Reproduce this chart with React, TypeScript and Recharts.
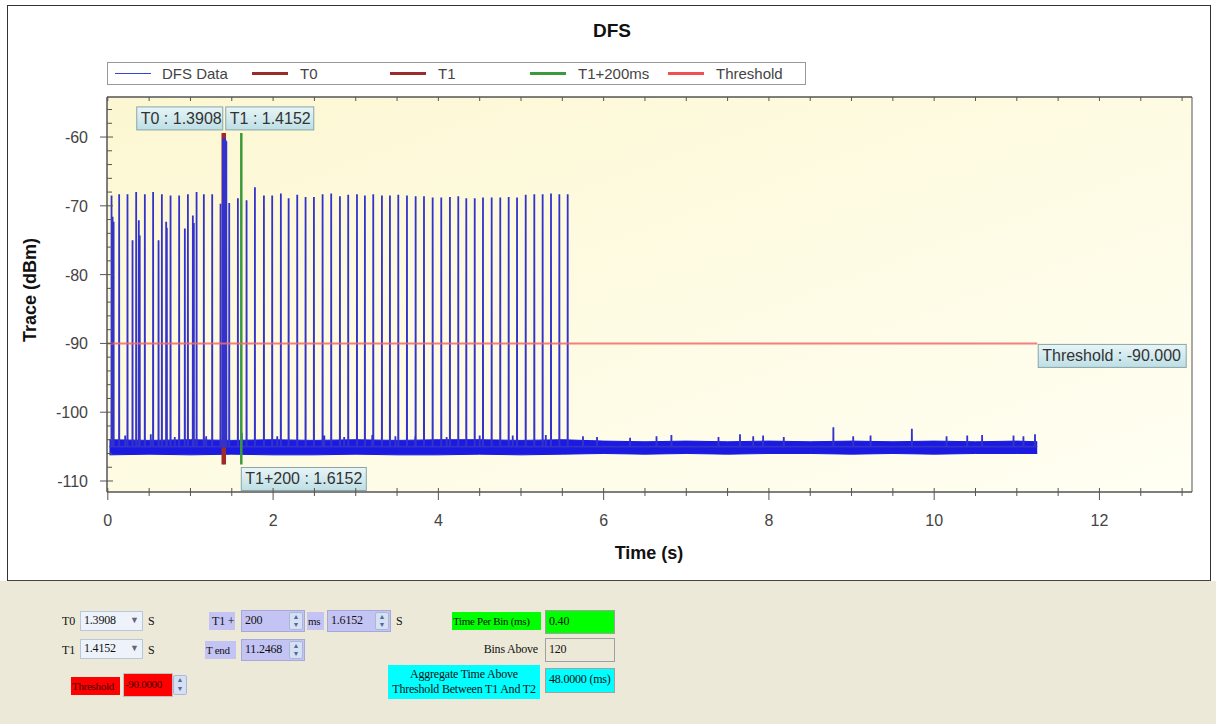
import React from "react";
import { Area, CartesianGrid, ComposedChart, Line, ReferenceArea, Scatter, XAxis, YAxis } from "recharts";

// pulse positions (s) and peak levels (dBm)
const pulseTimes = [
  0.045, 0.058, 0.07, 0.137, 0.238, 0.299, 0.343, 0.375, 0.386, 0.448, 0.548, 0.614, 0.654, 0.706, 0.714,
  0.759, 0.863, 0.932, 0.969, 1.029, 1.041, 1.074, 1.162, 1.263, 1.364, 1.392, 1.399, 1.406, 1.413, 1.42,
  1.427, 1.434, 1.469, 1.574, 1.679, 1.78, 1.889, 1.989, 2.094, 2.188, 2.292, 2.393, 2.494, 2.599, 2.703,
  2.809, 2.909, 3.015, 3.111, 3.212, 3.317, 3.414, 3.515, 3.62, 3.725, 3.826, 3.931, 4.035, 4.14, 4.241,
  4.338, 4.44, 4.54, 4.645, 4.749, 4.851, 4.952, 5.057, 5.161, 5.262, 5.363, 5.464, 5.565,
];
const pulsePeaks = [
  -68.5, -71.6, -72.3, -68.3, -68.3, -75.0, -68.0, -72.1, -74.3, -68.3, -68.0, -75.0, -68.3, -72.3, -73.2,
  -68.5, -68.5, -73.3, -68.3, -71.4, -72.5, -68.0, -68.3, -68.3, -69.7, -60.4, -60.2, -60.1, -60.2, -60.3,
  -60.5, -60.6, -69.6, -68.9, -69.2, -67.3, -68.5, -68.5, -68.2, -68.9, -68.4, -68.7, -68.7, -68.3, -68.2,
  -68.6, -68.4, -68.3, -68.5, -68.3, -68.5, -68.5, -68.4, -68.5, -68.6, -68.6, -68.8, -68.8, -68.7, -68.6,
  -68.9, -68.9, -68.8, -68.8, -68.8, -68.7, -68.8, -68.4, -68.3, -68.3, -68.2, -68.3, -68.3,
];

// small spikes sticking out of the noise floor
const spikeTimes = [
  0.21, 0.52, 0.81, 1.19, 1.62, 2.05, 2.62, 2.86, 3.2, 3.48, 3.72, 4.1, 4.5, 4.9, 5.3, 5.75, 5.92, 6.32,
  6.64, 6.82, 7.39, 7.65, 7.81, 7.93, 8.18, 8.78, 9.02, 9.23, 9.73, 10.15, 10.4, 10.58, 10.96, 11.08, 11.22,
];
const spikeValues = [
  -103.4, -103.2, -103.6, -103.5, -103.0, -103.5, -103.4, -103.6, -103.3, -103.5, -103.5, -103.6, -103.4,
  -103.4, -103.3, -103.5, -103.6, -103.7, -103.5, -103.3, -103.6, -103.2, -103.5, -103.4, -103.6, -102.2,
  -103.5, -103.4, -102.4, -103.5, -103.4, -103.3, -103.4, -103.5, -103.2,
];

// noise floor envelope
const bandTimes = [0.02, 0.5, 1, 1.5, 2, 2.5, 3, 3.5, 4, 4.5, 5, 5.5, 6, 6.5, 7, 7.5, 8, 8.5, 9, 9.5, 10, 10.5, 11, 11.2468];
const bandLow = [
  -106.2, -106.1, -106.2, -106.1, -106.2, -106.2, -106.1, -106.2, -106.2, -106.1, -106.2, -106.1, -106.0,
  -106.1, -106.0, -106.1, -106.0, -106.0, -106.1, -106.0, -106.1, -106.0, -106.0, -106.0,
];
const bandHigh = [
  -104.0, -104.1, -104.0, -104.1, -104.0, -104.1, -104.0, -104.1, -104.0, -104.0, -104.1, -104.0, -104.2,
  -104.3, -104.2, -104.3, -104.2, -104.3, -104.2, -104.3, -104.2, -104.3, -104.2, -104.3,
];

const floorLevel = -105;
const traceStart = 0.02;
const T0 = 1.3908;
const T1 = 1.4152;
const T1_200 = 1.6152;
const T_END = 11.2468;
const THRESHOLD = -90;
const markerLow = -107.6;
const markerHigh = -59.4;

const xTicks = [0, 0.5, 1, 1.5, 2, 2.5, 3, 3.5, 4, 4.5, 5, 5.5, 6, 6.5, 7, 7.5, 8, 8.5, 9, 9.5, 10, 10.5, 11, 11.5, 12, 12.5, 13];
const yTicks = [-110, -108, -106, -104, -102, -100, -98, -96, -94, -92, -90, -88, -86, -84, -82, -80, -78, -76, -74, -72, -70, -68, -66, -64, -62, -60, -58, -56];
const xDomain = [-0.01, 13.12];
const yDomain = [-111.6, -54.18];

const legendNames = ["DFS Data", "T0", "T1", "T1+200ms", "Threshold"];
const legendColors = ["#3344dd", "#9e2b2b", "#9e2b2b", "#3c9a3c", "#f05050"];

const events = [
  ...pulseTimes.map((t, i) => ({ t, v: pulsePeaks[i] })),
  ...spikeTimes.map((t, i) => ({ t, v: spikeValues[i] })),
].sort((a, b) => a.t - b.t);

const dfsData: { t: number; v: number }[] = [{ t: traceStart, v: floorLevel }];
events.forEach((e) => {
  dfsData.push({ t: e.t - 0.0015, v: floorLevel }, { t: e.t, v: e.v }, { t: e.t + 0.0015, v: floorLevel });
});
dfsData.push({ t: T_END, v: floorLevel });

const bandData = bandTimes.map((t, i) => ({ t, band: [bandLow[i], bandHigh[i]] }));
const t0Data = [{ t: T0, v: markerLow }, { t: T0, v: markerHigh }];
const t1Data = [{ t: T1, v: markerLow }, { t: T1, v: markerHigh }];
const t200Data = [{ t: T1_200, v: markerLow }, { t: T1_200, v: markerHigh }];
const thresholdData = [{ t: 0, v: THRESHOLD }, { t: T_END, v: THRESHOLD }];
const tagData = [
  { t: T0, v: markerHigh, id: "t0", text: `T0 : ${T0.toFixed(4)}` },
  { t: T1, v: markerHigh, id: "t1", text: `T1 : ${T1.toFixed(4)}` },
  { t: T1_200, v: markerLow, id: "t200", text: `T1+200 : ${T1_200.toFixed(4)}` },
  { t: T_END, v: THRESHOLD, id: "thr", text: `Threshold : ${THRESHOLD.toFixed(3)}` },
];

const tickFont = "'Liberation Sans', Arial, sans-serif";
const axisColor = "#555";

function BottomTick(props: any) {
  const { x, y, payload } = props;
  const major = payload.value % 2 === 0;
  return (
    <g>
      <line x1={x} x2={x} y1={y - 4} y2={y + (major ? 8 : 4)} stroke={axisColor} />
      {major ? (
        <text x={x} y={y + 34} textAnchor="middle" fontSize={16} fontFamily={tickFont} fill="#444">
          {payload.value}
        </text>
      ) : null}
    </g>
  );
}

function TopTick(props: any) {
  const { x, y } = props;
  return <line x1={x} x2={x} y1={y} y2={y + 4} stroke={axisColor} />;
}

function LeftTick(props: any) {
  const { x, y, payload } = props;
  const major = payload.value % 10 === 0;
  return (
    <g>
      <line x1={x - (major ? 7 : 0)} x2={x + (major ? 6 : 5)} y1={y} y2={y} stroke={axisColor} />
      {major ? (
        <text x={x - 19} y={y + 6} textAnchor="end" fontSize={16} fontFamily={tickFont} fill="#444">
          {payload.value}
        </text>
      ) : null}
    </g>
  );
}

function RightTick(props: any) {
  const { x, y } = props;
  return <line x1={x - 5} x2={x} y1={y} y2={y} stroke={axisColor} />;
}

const tagWidths: Record<string, number> = { t0: 86, t1: 88, t200: 125, thr: 148 };

function MarkerTag(props: any) {
  const { cx, cy, payload } = props;
  if (cx == null || cy == null) return null;
  const w = tagWidths[payload.id];
  const h = 23;
  let bx = cx + 1;
  let by = cy - 3 - h;
  if (payload.id === "t0") bx = cx - w;
  if (payload.id === "t200") {
    bx = cx;
    by = cy + 3;
  }
  if (payload.id === "thr") by = cy + 1;
  return (
    <g>
      <rect x={bx} y={by} width={w} height={h} fill="url(#tagBg)" stroke="#8aa4a8" />
      <text x={bx + 4} y={by + 17} fontSize={16} fontFamily={tickFont} fill="#333">
        {payload.text}
      </text>
    </g>
  );
}

const panelFont = "'Liberation Serif', 'Times New Roman', serif";

function Txt({ x, y, children, right }: any) {
  return (
    <div
      style={{
        position: "absolute",
        left: right ? undefined : x,
        right: right ? 1216 - x : undefined,
        top: y,
        fontFamily: panelFont,
        fontSize: 12,
        letterSpacing: -0.2,
        color: "#111",
        whiteSpace: "nowrap",
      }}
    >
      {children}
    </div>
  );
}

function Field({ x, y, w, h, bg, border, children, center, color, small }: any) {
  return (
    <div
      style={{
        position: "absolute",
        left: x,
        top: y,
        width: w,
        height: h,
        boxSizing: "border-box",
        background: bg,
        border: border ? `1px solid ${border}` : "none",
        fontFamily: panelFont,
        fontSize: small ? 11 : 12,
        letterSpacing: small ? -0.3 : -0.2,
        color: color || "#111",
        lineHeight: center ? "15px" : `${border ? h - 4 : h}px`,
        paddingLeft: center ? 0 : small ? 1 : 3,
        textAlign: center ? "center" : "left",
        display: center ? "flex" : "block",
        flexDirection: "column",
        justifyContent: "center",
        whiteSpace: "nowrap",
        overflow: "hidden",
      }}
    >
      {children}
    </div>
  );
}

function Spin({ x, y, h }: any) {
  return (
    <div
      style={{
        position: "absolute",
        left: x,
        top: y + 2,
        width: 14,
        height: h - 4,
        boxSizing: "border-box",
        background: "#d7e0f2",
        border: "1px solid #a8b8d8",
        borderRadius: 2,
        fontSize: 7,
        lineHeight: `${(h - 6) / 2}px`,
        color: "#4a6aa0",
        textAlign: "center",
      }}
    >
      ▲<br />▼
    </div>
  );
}

function Combo({ x, y, value }: any) {
  return (
    <>
      <Field x={x} y={y} w={63} h={20} bg="#eef3fb" border="#b8c8dc">
        {value}
      </Field>
      <div style={{ position: "absolute", left: x + 50, top: y + 4, fontSize: 9, color: "#667" }}>▼</div>
    </>
  );
}

function ControlPanel() {
  const lav = "#c4c4f4";
  return (
    <div style={{ position: "absolute", left: 0, top: 581, width: 1216, height: 143, background: "#ece9d8" }}>
      <div style={{ position: "absolute", left: 0, top: -581, width: 1216, height: 724 }}>
        <Txt x={62} y={614}>T0</Txt>
        <Combo x={80} y={611} value={T0.toFixed(4)} />
        <Txt x={148} y={614}>S</Txt>
        <Txt x={62} y={643}>T1</Txt>
        <Combo x={80} y={639} value={T1.toFixed(4)} />
        <Txt x={148} y={643}>S</Txt>

        <Field x={71} y={677} w={49} h={18} bg="#ff0000" color="#400" small>
          Threshold
        </Field>
        <Field x={123} y={673} w={50} h={24} bg="#ff0000" border="#c0c0c0" color="#400" small>
          {THRESHOLD.toFixed(4)}
        </Field>
        <Spin x={173} y={673} h={24} />

        <Field x={209} y={612} w={26} h={18} bg={lav}>
          T1 +
        </Field>
        <Field x={241} y={610} w={64} h={22} bg={lav} border="#a8a8d8">
          200
        </Field>
        <Spin x={289} y={610} h={22} />
        <Field x={307} y={612} w={17} h={18} bg={lav} small>
          ms
        </Field>
        <Field x={327} y={610} w={64} h={22} bg={lav} border="#a8a8d8">
          {T1_200.toFixed(4)}
        </Field>
        <Spin x={375} y={610} h={22} />
        <Txt x={396} y={614}>S</Txt>

        <Field x={205} y={641} w={31} h={18} bg={lav} small>
          T end
        </Field>
        <Field x={241} y={639} w={64} h={22} bg={lav} border="#a8a8d8">
          {T_END.toFixed(4)}
        </Field>
        <Spin x={289} y={639} h={22} />

        <Field x={452} y={612} w={89} h={18} bg="#00ff00" small>
          Time Per Bin (ms)
        </Field>
        <Field x={545} y={610} w={70} h={24} bg="#00ff00" border="#a0a0a0">
          0.40
        </Field>
        <Txt x={538} y={642} right>
          Bins Above
        </Txt>
        <Field x={545} y={638} w={70} h={24} bg="#ece9d8" border="#a0a0a0">
          120
        </Field>
        <Field x={388} y={665} w={152} h={34} bg="#00ffff" center>
          <div>Aggregate Time Above</div>
          <div>Threshold Between T1 And T2</div>
        </Field>
        <Field x={545} y={668} w={70} h={25} bg="#00ffff" border="#a0a0a0">
          48.0000 (ms)
        </Field>
      </div>
    </div>
  );
}

function ChartLegend() {
  const starts = [115, 252, 390, 530, 668];
  return (
    <div
      style={{
        position: "absolute",
        left: 107,
        top: 62,
        width: 699,
        height: 23,
        boxSizing: "border-box",
        border: "1px solid #999",
        background: "#fff",
      }}
    >
      {legendNames.map((name, i) => (
        <div key={name} style={{ position: "absolute", left: starts[i] - 108, top: 0, height: 21, display: "flex", alignItems: "center" }}>
          <div style={{ width: 36, height: i === 0 ? 1.5 : 3, background: legendColors[i] }} />
          <span style={{ marginLeft: i === 0 ? 11 : 12, fontFamily: tickFont, fontSize: 15, color: "#444" }}>{name}</span>
        </div>
      ))}
    </div>
  );
}

export default function App() {
  return (
    <div style={{ position: "absolute", left: 0, top: 0, width: 1216, height: 724, background: "#fff", overflow: "hidden" }}>
      <div
        style={{
          position: "absolute",
          left: 7,
          top: 5,
          width: 1204,
          height: 577,
          boxSizing: "border-box",
          border: "1px solid #333",
          borderBottom: "2px solid #444",
          background: "#fff",
        }}
      />
      <div style={{ position: "absolute", left: 0, top: 20, width: 1216, textAlign: "center", paddingLeft: 8, boxSizing: "border-box", fontFamily: tickFont, fontWeight: "bold", fontSize: 19, color: "#111" }}>
        DFS
      </div>
      <ChartLegend />
      <div style={{ position: "absolute", left: 0, top: 0 }}>
        <ComposedChart width={1216} height={580} margin={{ top: 96, right: 24, bottom: 48, left: 67 }}>
          <defs>
            <linearGradient id="plotBg" x1="0" y1="0" x2="1" y2="1">
              <stop offset="0%" stopColor="#fcf7d2" />
              <stop offset="100%" stopColor="#fffff3" />
            </linearGradient>
            <linearGradient id="tagBg" x1="0" y1="0" x2="0" y2="1">
              <stop offset="0%" stopColor="#e8f5f7" />
              <stop offset="100%" stopColor="#bcdfe5" />
            </linearGradient>
          </defs>
          <CartesianGrid horizontal={false} vertical={false} fill="url(#plotBg)" />
          <XAxis
            dataKey="t"
            type="number"
            domain={xDomain}
            allowDataOverflow
            ticks={xTicks}
            interval={0}
            height={40}
            tickSize={0}
            tickMargin={0}
            tickLine={false}
            tick={BottomTick}
            stroke={axisColor}
          />
          <XAxis
            xAxisId="top"
            orientation="top"
            dataKey="t"
            type="number"
            domain={xDomain}
            allowDataOverflow
            ticks={xTicks}
            interval={0}
            height={1}
            tickSize={0}
            tickMargin={0}
            tickLine={false}
            tick={TopTick}
            stroke={axisColor}
          />
          <YAxis
            type="number"
            domain={yDomain}
            allowDataOverflow
            ticks={yTicks}
            interval={0}
            width={40}
            tickSize={0}
            tickMargin={0}
            tickLine={false}
            tick={LeftTick}
            stroke={axisColor}
          />
          <YAxis
            yAxisId="r"
            orientation="right"
            type="number"
            domain={yDomain}
            allowDataOverflow
            ticks={yTicks}
            interval={0}
            width={0}
            tickSize={0}
            tickMargin={0}
            tickLine={false}
            tick={RightTick}
            stroke={axisColor}
          />
          <Line data={t0Data} dataKey="v" stroke="#9e2b2b" strokeWidth={2.5} dot={false} isAnimationActive={false} />
          <Line data={t1Data} dataKey="v" stroke="#9e2b2b" strokeWidth={2.5} dot={false} isAnimationActive={false} />
          <Area
            data={bandData}
            dataKey="band"
            type="linear"
            stroke="#1a1ae0"
            strokeWidth={1}
            fill="#1a1ae0"
            fillOpacity={1}
            isAnimationActive={false}
          />
          <Line data={dfsData} dataKey="v" type="linear" stroke="#3333cc" strokeWidth={1.8} dot={false} isAnimationActive={false} />
          <Line data={t200Data} dataKey="v" stroke="#3c9a3c" strokeWidth={2.5} dot={false} isAnimationActive={false} />
          <Line data={thresholdData} dataKey="v" stroke="#f26a6a" strokeOpacity={0.85} strokeWidth={2} dot={false} isAnimationActive={false} />
          <ReferenceArea x1={xDomain[0]} x2={xDomain[1]} y1={yDomain[0]} y2={yDomain[1]} fill="none" stroke={axisColor} strokeWidth={1} ifOverflow="visible" />
          <Scatter data={tagData} dataKey="v" shape={MarkerTag} isAnimationActive={false} />
        </ComposedChart>
      </div>
      <div style={{ position: "absolute", left: 0, top: 543, width: 1216, textAlign: "center", paddingLeft: 82, boxSizing: "border-box", fontFamily: tickFont, fontWeight: "bold", fontSize: 18, color: "#111" }}>
        Time (s)
      </div>
      <div
        style={{
          position: "absolute",
          left: 30,
          top: 290,
          transform: "translate(-50%, -50%) rotate(-90deg)",
          fontFamily: tickFont,
          fontWeight: "bold",
          fontSize: 18,
          color: "#111",
          whiteSpace: "nowrap",
        }}
      >
        Trace (dBm)
      </div>
      <ControlPanel />
    </div>
  );
}
